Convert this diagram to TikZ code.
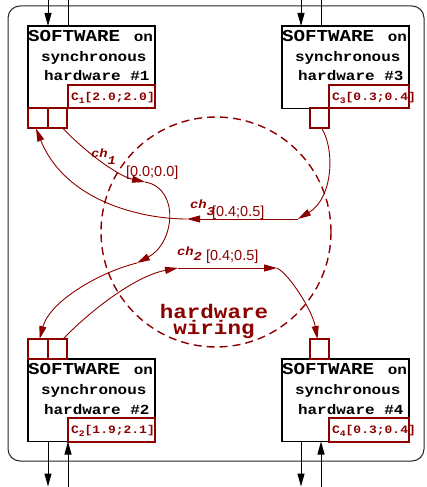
\documentclass[tikz,border=0pt]{standalone}
\usepackage{fontspec}
\setsansfont{Liberation Sans}
\newfontfamily\wirefont[FakeStretch=1.15]{Liberation Mono}
\usetikzlibrary{arrows.meta,calc}
\definecolor{wire}{RGB}{140,0,0}
\tikzset{
  frame/.style={draw=black!85, line width=1bp, rounded corners=12bp},
  swbox/.style={draw=black, line width=1.5bp, fill=white, inner sep=0, outer sep=0,
    minimum width=127bp, minimum height=82.5bp, anchor=north west},
  port/.style={draw=wire, line width=2bp, inner sep=0, outer sep=0,
    minimum width=19.5bp, minimum height=20bp},
  cbox/.style={draw=wire, line width=2bp, inner sep=0, outer sep=0,
    minimum height=23.5bp, anchor=south east},
  txt/.style={inner sep=0, outer sep=0, anchor=base west},
  swbig/.style={font=\wirefont\bfseries\fontsize{16.7bp}{18bp}\selectfont},
  swsmall/.style={font=\wirefont\bfseries\fontsize{13.9bp}{15bp}\selectfont},
  clabel/.style={text=wire, font=\wirefont\bfseries\fontsize{11.3bp}{12bp}\selectfont},
  chlab/.style={text=wire, font=\wirefont\bfseries\itshape\fontsize{12bp}{13bp}\selectfont},
  dly/.style={text=wire, font=\sffamily\fontsize{14.5bp}{15bp}\selectfont},
  hwlab/.style={text=wire, inner sep=0, outer sep=0, anchor=base, align=center,
    font=\wirefont\bfseries\fontsize{19.6bp}{16bp}\selectfont},
  io/.style={draw=black, line width=1bp},
  iotip/.style={io, -{Triangle[length=13bp,width=7bp]}},
  link/.style={draw=wire, line width=0.9bp, -{Triangle[length=13bp,width=7bp]}},
  cloud/.style={draw=wire, line width=1.4bp, dash pattern=on 8bp off 5bp},
}
% one processing unit: name, north-west corner, number, width of the C box, C values
\newcommand\swunit[5]{%
  \node[swbox] (#1) at (#2) {};
  \node[txt, swbig] (#1-sw) at ($(#1.north west)+(0,15.2)$) {SOFTWARE};
  \node[txt, swsmall, anchor=base east] (#1-on) at ($(#1.north west)+(125,15.2)$) {on};
  \node[txt, swsmall] (#1-sy) at ($(#1.north west)+(13,35.2)$) {synchronous};
  \node[txt, swsmall] (#1-hw) at ($(#1.north west)+(16,55)$) {hardware \##3};
  \node[cbox, minimum width=#4] (#1-c) at (#1.south east) {};
  \node[txt, clabel] (#1-cl) at ($(#1-c.south west)+(3,-8.2)$)
    {C\raisebox{-3bp}{\fontsize{8.5bp}{9bp}\selectfont #3}#5};
}
\begin{document}
\begin{tikzpicture}[x=1bp, y=-1bp]
\useasboundingbox (0,0) rectangle (426,487);

% board outline
\draw[frame] (8,6) rectangle (424,461);

% wiring area
\draw[cloud] (216,232) circle[radius=115];
\node[hwlab] (hw) at (214,334) {hardware\\wiring};

% units
\swunit{b1}{28,26}{1}{87bp}{[2.0;2.0]}
\swunit{b3}{282,26}{3}{80bp}{[0.3;0.4]}
\swunit{b2}{28,359}{2}{87bp}{[1.9;2.1]}
\swunit{b4}{282,359}{4}{80bp}{[0.3;0.4]}

% ports
\node[port, anchor=north west] (b1-p1) at (b1.south west) {};
\node[port, anchor=north west] (b1-p2) at (b1-p1.north east) {};
\node[port, anchor=north east] (b3-p) at ($(b3.south west)+(47,0)$) {};
\node[port, anchor=south west] (b2-p1) at (b2.north west) {};
\node[port, anchor=south west] (b2-p2) at (b2-p1.south east) {};
\node[port, anchor=south east] (b4-p) at ($(b4.north west)+(47,0)$) {};

% external inputs and outputs
\coordinate (b1-in) at ($(b1.north west)+(20,-30)$);
\coordinate (b1-out) at ($(b1.north west)+(40,-30)$);
\coordinate (b3-in) at ($(b3.north west)+(19,-30)$);
\coordinate (b3-out) at ($(b3.north west)+(39,-30)$);
\coordinate (b2-out) at ($(b2.south west)+(20,45)$);
\coordinate (b2-in) at ($(b2.south west)+(40,50)$);
\coordinate (b4-out) at ($(b4.south west)+(19,45)$);
\coordinate (b4-in) at ($(b4.south west)+(39,50)$);
\draw[iotip] (b1-in) -- (b1-in |- b1.north);
\draw[io] (b1-out |- b1.north) -- (b1-out);
\draw[iotip] (b3-in) -- (b3-in |- b3.north);
\draw[io] (b3-out |- b3.north) -- (b3-out);
\draw[iotip] (b2-out |- b2.south) -- (b2-out);
\draw[iotip] (b2-in) -- (b2-in |- b2.south);
\draw[iotip] (b4-out |- b4.south) -- (b4-out);
\draw[iotip] (b4-in) -- (b4-in |- b4.south);

% channel end points
\coordinate (ch1in) at (145,182);
\coordinate (ch1mid) at (137,263);
\coordinate (ch2in) at (178,268);
\coordinate (ch2out) at (277,268);
\coordinate (ch3in) at (298,219);
\coordinate (ch3out) at (187,219);

% channel 1
\draw[link] (b1-p2.-60) .. controls +(23,24) and +(-27,-6) .. (ch1in);
\draw[link] (ch1in) .. controls +(35,6) and +(38,-20) .. (ch1mid);
\draw[link] (ch1mid) .. controls +(-37,9) and +(10.5,-38) .. (b2-p1.80);
% channel 2
\draw[link] (b2-p2.60) .. controls +(27,-28) and +(-43,8) .. (ch2in);
\draw[link] (ch2in) -- (ch2out);
\draw[link] (ch2out) .. controls +(13,7) and +(-5,-28) .. (b4-p.100);
% channel 3
\draw[link] (b3-p.-75) .. controls +(13,22) and +(35,-21) .. (ch3in);
\draw[link] (ch3in) -- (ch3out);
\draw[link] (ch3out) .. controls +(-47,0) and +(29,72) .. (b1-p1.-100);

% channel labels
\node[txt, chlab] (ch1lab) at (91,158) {ch\raisebox{-7bp}{1}};
\node[txt, dly] (ch1dly) at (126,177) {[0.0;0.0]};
\node[txt, chlab] (ch3lab) at (190,208) {ch\raisebox{-7bp}{3}};
\node[txt, dly] (ch3dly) at (212,216) {[0.4;0.5]};
\node[txt, chlab] (ch2lab) at (177,255) {ch\raisebox{-5bp}{2}};
\node[txt, dly] (ch2dly) at (206,260) {[0.4;0.5]};
\end{tikzpicture}
\end{document}
